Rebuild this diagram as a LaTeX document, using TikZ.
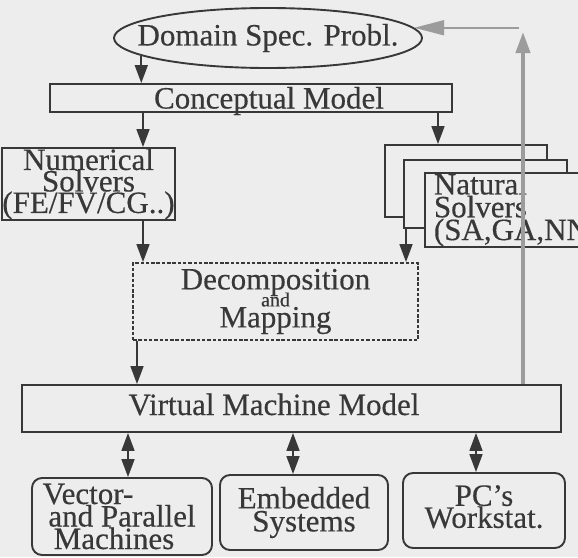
\documentclass[tikz,border=0pt]{standalone}
\usepackage{fontspec}
\setmainfont{Liberation Serif}[FakeBold=0.4]
\usetikzlibrary{shapes.geometric,arrows.meta}
\definecolor{bg}{HTML}{EDEDED}
\definecolor{lc}{HTML}{383838}
\definecolor{gc}{HTML}{9C9C9C}
\AtBeginDocument{\lineskiplimit=-50pt\relax}
\begin{document}
\begin{tikzpicture}[x=1pt,y=-1pt,
  box/.style={draw=lc, text=lc, line width=1.9pt, fill=bg, inner sep=0pt, align=center,
    font=\fontsize{31}{21.5}\selectfont},
  rbox/.style={box, rounded corners=10pt},
  arr/.style={draw=lc, line width=1.7pt, -{Triangle[length=18pt,width=13pt]}},
  darr/.style={draw=lc, line width=1.7pt, {Triangle[length=18pt,width=13pt]}-{Triangle[length=18pt,width=13pt]}},
  garrv/.style={draw=gc, line width=4pt, -{Triangle[length=21pt,width=14pt]}},
  garrh/.style={draw=gc, line width=2pt, -{Triangle[length=30pt,width=15pt]}}]
\fill[bg] (0,0) rectangle (578,557);
\useasboundingbox (0,0) rectangle (578,557);
% nodes
\node[box, ellipse, minimum width=308pt, minimum height=60pt] (dom) at (268,38) {\makebox[0pt]{Domain Spec. Probl.}};
\node[box, minimum width=402pt, minimum height=28pt, text height=21pt, text depth=0pt] (cm) at (251,98) {\hspace*{36pt}Conceptual Model};
\node[box, minimum width=163pt, minimum height=72pt] (num) at (88.5,184) {Numerical\\Solvers\\(FE/FV/CG..)};
\node[box, minimum width=162pt, minimum height=72pt] (nat3) at (466,181) {};
\node[box, minimum width=163pt, minimum height=68pt] (nat2) at (485.5,194) {};
\node[box, anchor=north west, text width=165pt, inner xsep=9pt, minimum height=70pt, align=left,
  font=\fontsize{31}{19}\selectfont] (nat1) at (424,172) {Natural\\Solvers\\(SA,GA,NN)};
\node[box, dashed, dash pattern=on 3.5pt off 1.8pt, minimum width=285pt, minimum height=77pt,
  font=\fontsize{31}{21}\selectfont] (dec) at (275.5,301.5)
  {Decomposition\\[-4pt]{\fontsize{20}{20}\selectfont and}\\Mapping};
\node[box, minimum width=539pt, minimum height=47pt, text height=21pt, text depth=8pt] (vmm) at (291.5,408.5) {Virtual Machine Model\hspace*{35pt}};
\node[rbox, minimum width=180pt, minimum height=77pt, font=\fontsize{31}{22.5}\selectfont] (vec) at (122,516.5)
  {Vector-\hspace*{68pt}\\and Parallel\hspace*{16pt}\\Machines\hspace*{16pt}};
\node[rbox, minimum width=168pt, minimum height=75pt, font=\fontsize{31}{23}\selectfont] (emb) at (304,512.5) {Embedded\\Systems};
\node[rbox, minimum width=162pt, minimum height=75pt, text depth=8pt, font=\fontsize{31}{22}\selectfont] (pcs) at (484,510.5) {PC's\\Workstat.};
% connectors
\draw[arr] (dom.188) -- (dom.188 |- cm.north);
\draw[arr] (cm.south -| 143,0) -- (num.north -| 143,0);
\draw[arr] (cm.south -| 438,0) -- (nat3.north -| 438,0);
\draw[arr] (num.south -| 143,0) -- (dec.north -| 143,0);
\draw[arr] (nat2.south -| 406,0) -- (dec.north -| 406,0);
\draw[arr] (dec.south -| 137,0) -- (vmm.north -| 137,0);
\draw[darr] (vmm.south -| 128,0) -- (vec.north -| 128,0);
\draw[darr] (vmm.south -| 293,0) -- (emb.north -| 293,0);
\draw[darr] (vmm.south -| 476,0) -- (pcs.north -| 476,0);
% gray feedback
\coordinate (gtop) at (523,32);
\coordinate (gstart) at (dom.4.4 -| 519,0);
\draw[garrv] (vmm.north -| 523,0) -- (gtop);
\draw[garrh] (gstart) -- (dom.4.4);
\end{tikzpicture}
\end{document}
